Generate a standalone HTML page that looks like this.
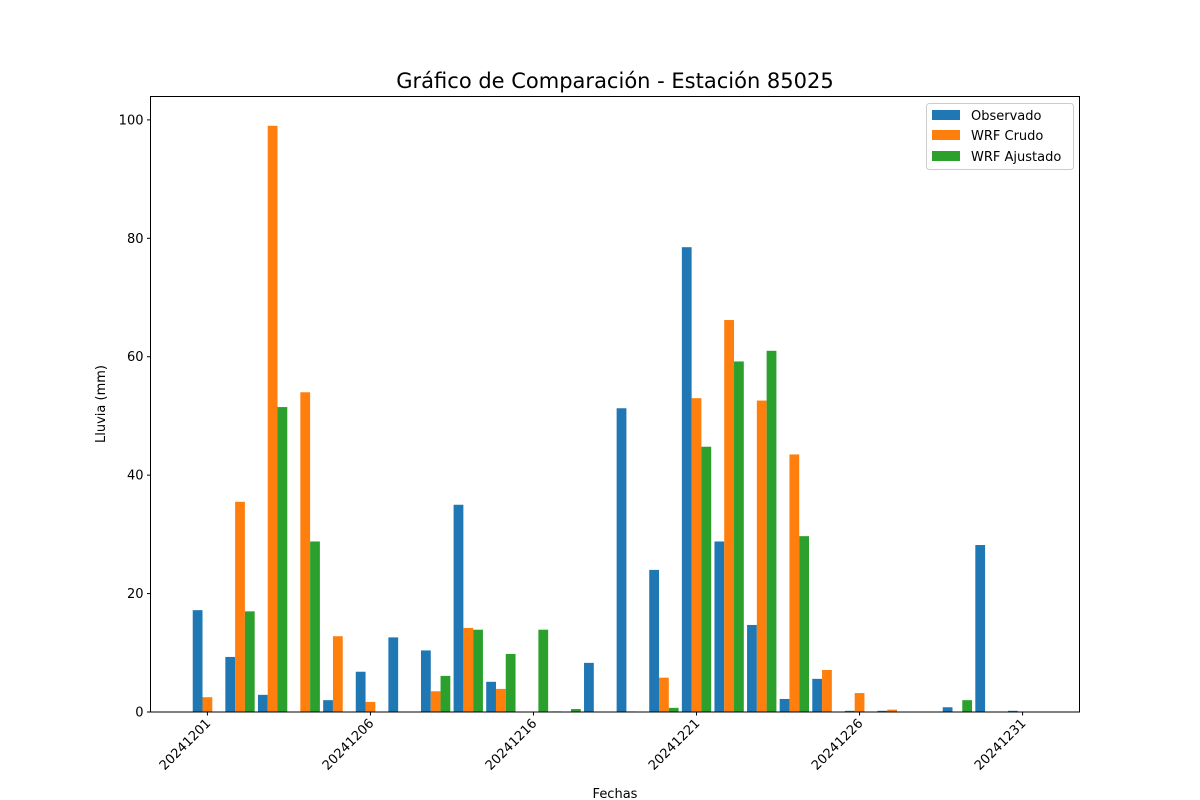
<!DOCTYPE html>
<html><head><meta charset="utf-8"><style>body{margin:0;background:#fff}svg{display:block;font-family:"DejaVu Sans","Liberation Sans",sans-serif}</style></head>
<body>
<svg id="chart" width="1200" height="800" viewBox="0 0 1200 800" xmlns="http://www.w3.org/2000/svg">
<rect width="1200" height="800" fill="#fff"/>
<text x="615" y="88" font-size="21" text-anchor="middle">Gráfico de Comparación - Estación 85025</text>
<g id="bars"></g>
<g id="axes"></g>
<rect x="150.5" y="96.5" width="929" height="615.5" fill="none" stroke="#000" stroke-width="1"/>
<text x="615" y="798" font-size="13" text-anchor="middle">Fechas</text>
<text x="105" y="404" font-size="13" text-anchor="middle" transform="rotate(-90 105 404)">Lluvia (mm)</text>
<g>
<rect x="926.5" y="103.5" width="147" height="66" fill="#fff" fill-opacity="0.8" stroke="#ccc" rx="3"/>
<rect x="932" y="110" width="28" height="10" fill="#1f77b4"/>
<text x="971" y="120" font-size="13">Observado</text>
<rect x="932" y="130" width="28" height="10" fill="#ff7f0e"/>
<text x="971" y="140" font-size="13">WRF Crudo</text>
<rect x="932" y="151" width="28" height="10" fill="#2ca02c"/>
<text x="971" y="161" font-size="13">WRF Ajustado</text>
</g>
</svg>
<script>
const categories = ["20241201","20241202","20241203","20241204","20241205","20241206","20241208","20241210","20241212","20241214","20241216","20241217","20241218","20241219","20241220","20241221","20241222","20241223","20241224","20241225","20241226","20241227","20241228","20241229","20241230","20241231"];
const observado = [17.2,9.3,2.9,0,2,6.8,12.6,10.4,35,5.1,0,0.1,8.3,51.3,24,78.5,28.8,14.7,2.2,5.6,0.2,0.2,0,0.8,28.2,0.2];
const wrfCrudo = [2.5,35.5,99,54,12.8,1.7,0,3.5,14.2,3.9,0,0,0,0.1,5.8,53,66.2,52.6,43.5,7.1,3.2,0.4,0,0,0,0];
const wrfAjustado = [0,17,51.5,28.8,0,0,0,6.1,13.9,9.8,13.9,0.5,0,0,0.7,44.8,59.2,61,29.7,0,0,0,0,2,0,0];
const yTicks = [0,20,40,60,80,100];
const tickEvery = 5;

const NS = "http://www.w3.org/2000/svg";
const L=150.5,R=1079.5,T=96.5,B=712;
const n = categories.length;
const xMin = -0.45 - 0.05*(n-1+0.9), xMax = (n-1)+0.45 + 0.05*(n-1+0.9);
const allMax = Math.max(...observado,...wrfCrudo,...wrfAjustado);
const yMax = allMax*1.05;
const xs = v => L + (v-xMin)/(xMax-xMin)*(R-L);
const ys = v => B - v/yMax*(B-T);
const bw = 0.3;
const series = [[observado,"#1f77b4",-1,"observado"],[wrfCrudo,"#ff7f0e",0,"wrf-crudo"],[wrfAjustado,"#2ca02c",1,"wrf-ajustado"]];
const gb = document.getElementById("bars");
series.forEach(([vals,col,off,nm])=>{
  vals.forEach((v,i)=>{
    const c = i + off*bw;
    const r = document.createElementNS(NS,"rect");
    
    
    const x0 = xs(c-bw/2), x1 = xs(c+bw/2);
    r.setAttribute("x", x0); r.setAttribute("width", x1-x0);
    r.setAttribute("y", ys(v)); r.setAttribute("height", B-ys(v));
    r.setAttribute("fill", col);
    gb.appendChild(r);
  });
});
const ga = document.getElementById("axes");
yTicks.forEach(t=>{
  const y = ys(t);
  const l = document.createElementNS(NS,"line");
  
  
  l.setAttribute("x1",L-3.5);l.setAttribute("x2",L);l.setAttribute("y1",y);l.setAttribute("y2",y);l.setAttribute("stroke","#000");
  ga.appendChild(l);
  const tx = document.createElementNS(NS,"text");
  
  
  tx.setAttribute("x",L-7);tx.setAttribute("y",y+4.5);tx.setAttribute("font-size","13");tx.setAttribute("text-anchor","end");
  tx.textContent = t;
  ga.appendChild(tx);
});
categories.forEach((c,i)=>{
  if(i%tickEvery!==0) return;
  const x = xs(i);
  const l = document.createElementNS(NS,"line");
  
  
  l.setAttribute("x1",x);l.setAttribute("x2",x);l.setAttribute("y1",B);l.setAttribute("y2",B+3.5);l.setAttribute("stroke","#000");
  ga.appendChild(l);
  const tx = document.createElementNS(NS,"text");
  
  
  const ax = x+4, ay = B+12;
  tx.setAttribute("x",ax);tx.setAttribute("y",ay);tx.setAttribute("font-size","13");tx.setAttribute("text-anchor","end");
  tx.setAttribute("transform","rotate(-45 "+ax+" "+ay+")");
  tx.textContent = c;
  ga.appendChild(tx);
});
</script>
</body></html>
